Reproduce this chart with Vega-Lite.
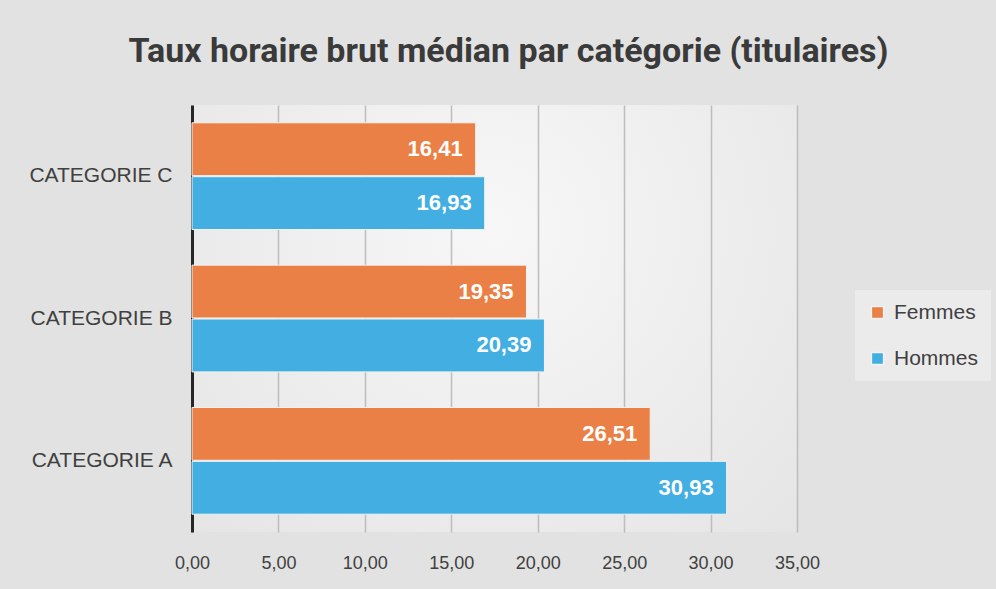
{
  "$schema": "https://vega.github.io/schema/vega-lite/v6.json",
  "width": 605,
  "height": 427,
  "autosize": {"type": "none"},
  "padding": {"left": 192, "top": 105, "right": 199, "bottom": 57},
  "background": "#e2e2e2",
  "title": {
    "text": "Taux horaire brut médian par catégorie (titulaires)",
    "font": "Roboto",
    "fontSize": 34,
    "fontWeight": "bold",
    "color": "#3a3a3a",
    "anchor": "middle",
    "dx": 14,
    "offset": 36
  },
  "config": {
    "locale": {
      "number": {"decimal": ",", "thousands": " ", "grouping": [3], "currency": ["", " €"]}
    },
    "view": {
      "stroke": null,
      "fill": {
        "gradient": "radial",
        "x1": 0.5, "y1": 0.35, "r1": 0,
        "x2": 0.5, "y2": 0.35, "r2": 0.9,
        "stops": [
          {"offset": 0, "color": "#f7f7f7"},
          {"offset": 1, "color": "#e0e0e0"}
        ]
      }
    },
    "font": "Liberation Sans"
  },
  "data": {
    "values": [
      {"categorie": "CATEGORIE C", "sexe": "Femmes", "taux": 16.41},
      {"categorie": "CATEGORIE C", "sexe": "Hommes", "taux": 16.93},
      {"categorie": "CATEGORIE B", "sexe": "Femmes", "taux": 19.35},
      {"categorie": "CATEGORIE B", "sexe": "Hommes", "taux": 20.39},
      {"categorie": "CATEGORIE A", "sexe": "Femmes", "taux": 26.51},
      {"categorie": "CATEGORIE A", "sexe": "Hommes", "taux": 30.93}
    ]
  },
  "encoding": {
    "y": {
      "field": "categorie",
      "type": "nominal",
      "sort": ["CATEGORIE C", "CATEGORIE B", "CATEGORIE A"],
      "scale": {"paddingInner": 0.25, "paddingOuter": 0.125},
      "axis": {
        "title": null,
        "ticks": false,
        "domainColor": "#262626",
        "domainWidth": 3,
        "labelFontSize": 21,
        "labelColor": "#404040",
        "labelPadding": 20,
        "labelFont": "Liberation Sans"
      }
    },
    "yOffset": {
      "field": "sexe",
      "type": "nominal",
      "sort": ["Femmes", "Hommes"],
      "scale": {"paddingInner": 0.02}
    },
    "x": {
      "field": "taux",
      "type": "quantitative",
      "scale": {"domain": [0, 35], "nice": false},
      "axis": {
        "title": null,
        "values": [0, 5, 10, 15, 20, 25, 30, 35],
        "format": ".2f",
        "domain": false,
        "ticks": false,
        "grid": true,
        "gridColor": "#bdbdbd",
        "gridWidth": 1.5,
        "labelFlush": false,
        "labelFontSize": 18,
        "labelColor": "#404040",
        "labelPadding": 22,
        "labelFont": "Liberation Sans"
      }
    }
  },
  "layer": [
    {
      "mark": {"type": "bar", "stroke": "#f2f2f2", "strokeWidth": 1},
      "encoding": {
        "color": {
          "field": "sexe",
          "type": "nominal",
          "scale": {"domain": ["Femmes", "Hommes"], "range": ["#EA8045", "#42AEE2"]},
          "legend": {
            "title": null,
            "orient": "none",
            "legendX": 663,
            "legendY": 185,
            "fillColor": "#ebebeb",
            "padding": 12,
            "symbolType": "square",
            "symbolSize": 150,
            "labelFontSize": 21,
            "labelColor": "#404040",
            "labelFont": "Liberation Sans",
            "rowPadding": 24,
            "labelOffset": 6
          }
        }
      }
    },
    {
      "mark": {
        "type": "text",
        "align": "right",
        "baseline": "middle",
        "dx": -13,
        "fontSize": 22,
        "fontWeight": "bold",
        "color": "white",
        "font": "Liberation Sans"
      },
      "encoding": {
        "text": {"field": "taux", "type": "quantitative", "format": ".2f"}
      }
    }
  ]
}
